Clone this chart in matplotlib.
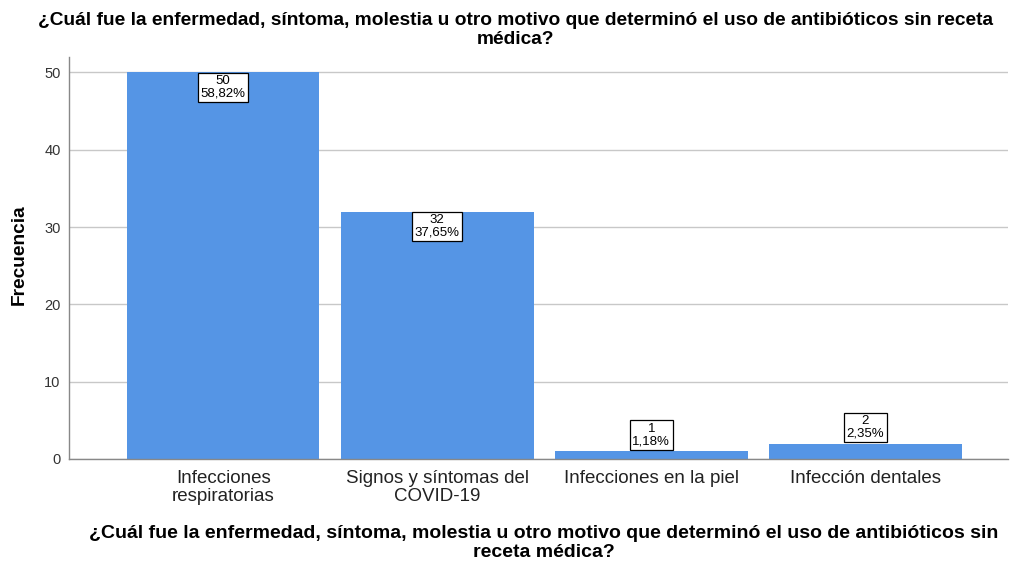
#!/usr/bin/env python

import numpy as np
import matplotlib
matplotlib.use('Agg')
import matplotlib.pyplot as plt

# Data
categories = ['Infecciones\nrespiratorias', 'Signos y síntomas del\nCOVID-19',
              'Infecciones en la piel', 'Infección dentales']
counts = [50, 32, 1, 2]
percents = ['58,82%', '37,65%', '1,18%', '2,35%']

title = ('¿Cuál fue la enfermedad, síntoma, molestia u otro motivo que determinó '
         'el uso de antibióticos sin receta\nmédica?')
xlabel = ('¿Cuál fue la enfermedad, síntoma, molestia u otro motivo que determinó '
          'el uso de antibióticos sin\nreceta médica?')


def main():
    plt.rcParams['font.family'] = ['Liberation Sans', 'DejaVu Sans']

    fig = plt.figure(figsize=(10.11, 5.61), dpi=100)
    ax = fig.add_axes([69/1011, 1 - 459/561, (1008-69)/1011, (459-57)/561])

    x = np.arange(len(categories))
    ax.bar(x, counts, width=0.9, color='#5595E5', zorder=2)

    for xi, c, p in zip(x, counts, percents):
        if c > 10:
            ax.annotate('%d\n%s' % (c, p), (xi, c), xytext=(0, -2), textcoords='offset points',
                        ha='center', va='top', fontsize=9.5, linespacing=1.0, zorder=3,
                        bbox=dict(boxstyle='square,pad=0.2', fc='white', ec='black', lw=0.9))
        else:
            ax.annotate('%d\n%s' % (c, p), (xi, c), xytext=(0, 3), textcoords='offset points',
                        ha='center', va='bottom', fontsize=9.5, linespacing=1.0, zorder=3,
                        bbox=dict(boxstyle='square,pad=0.2', fc='white', ec='black', lw=0.9))

    ax.set_xlim(-0.72, 3.666)
    ax.set_ylim(0, 52)
    ax.set_yticks([0, 10, 20, 30, 40, 50])
    ax.set_xticks(x)
    ax.set_xticklabels(categories, fontsize=13.5, color='#222222', linespacing=1.1)
    ax.tick_params(axis='x', length=0, pad=8)
    ax.tick_params(axis='y', length=0, pad=6, labelsize=10.5, labelcolor='#333333')
    ax.yaxis.grid(True, color='#c8c8c8', lw=1, zorder=0)

    for s in ['top', 'right']:
        ax.spines[s].set_visible(False)
    for s in ['left', 'bottom']:
        ax.spines[s].set_color('#888888')
        ax.spines[s].set_linewidth(1)

    fig.text(19/1011, 1 - 255/561, 'Frecuencia', rotation=90, ha='center', va='center',
             fontsize=13.8, fontweight='bold')

    fig.text(516/1011, 1 - 30/561, title, ha='center', va='center', fontsize=13.8,
             fontweight='bold', linespacing=1.15)
    fig.text(544/1011, 1 - 543/561, xlabel, ha='center', va='center', fontsize=14,
             fontweight='bold', linespacing=1.1)

    fig.savefig('out.png', dpi=100)


if __name__ == '__main__':
    main()
